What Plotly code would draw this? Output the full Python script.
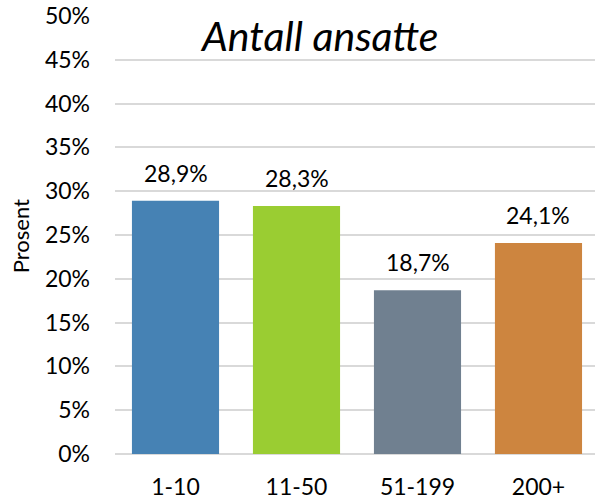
import plotly.graph_objects as go

categories = ["1-10", "11-50", "51-199", "200+"]
values = [28.9, 28.3, 18.7, 24.1]
colors = ["#4682B4", "#9ACD32", "#708090", "#CD853F"]
tick_vals = [0, 5, 10, 15, 20, 25, 30, 35, 40, 45, 50]
tick_text = [f"{v}%" for v in tick_vals]
title_text = "Antall ansatte"
y_title = "Prosent"

FONT = "Lato, Open Sans, sans-serif"

fig = go.Figure(go.Bar(
    x=categories,
    y=values,
    marker=dict(color=colors, line=dict(width=0)),
    width=0.72,
    cliponaxis=False,
    hoverinfo="skip",
))

annotations = [dict(
    x=c, y=v, xref="x", yref="y", text=f"{v:.1f}%".replace(".", ","),
    showarrow=False, yanchor="bottom", xanchor="center", yshift=12,
    font=dict(size=23, family=FONT, color="#000000"),
) for c, v in zip(categories, values)]

annotations.append(dict(
    text=f"<i>{title_text}</i>", xref="paper", yref="paper",
    x=0.427, y=0.955, xanchor="center", yanchor="middle",
    showarrow=False, font=dict(size=41, family=FONT, color="#000000"),
))
annotations.append(dict(
    text=y_title, xref="paper", yref="paper",
    x=-0.198, y=0.497, xanchor="center", yanchor="middle", textangle=-90,
    showarrow=False, font=dict(size=22, family=FONT, color="#000000"),
))

fig.update_layout(
    width=595, height=502,
    margin=dict(l=115, r=0, t=16, b=48, autoexpand=False),
    paper_bgcolor="white", plot_bgcolor="white",
    separators=",.",
    showlegend=False,
    font=dict(family=FONT, size=23, color="#000000"),
    annotations=annotations,
)

fig.update_xaxes(
    range=[-0.5, 3.467], showgrid=False, showline=False, zeroline=False,
    ticks="", ticklabelstandoff=17, tickfont=dict(size=23, family=FONT),
    automargin=False,
)
fig.update_yaxes(
    range=[0, 50], tickvals=tick_vals, ticktext=tick_text,
    showgrid=True, gridcolor="#d9d9d9", gridwidth=2,
    zeroline=True, zerolinecolor="#d9d9d9", zerolinewidth=2,
    showline=False, ticks="", ticklabelstandoff=24,
    tickfont=dict(size=23, family=FONT), automargin=False,
)

fig.write_html("out.html", config={"displayModeBar": False},
               post_script="document.body.style.margin='0';")
